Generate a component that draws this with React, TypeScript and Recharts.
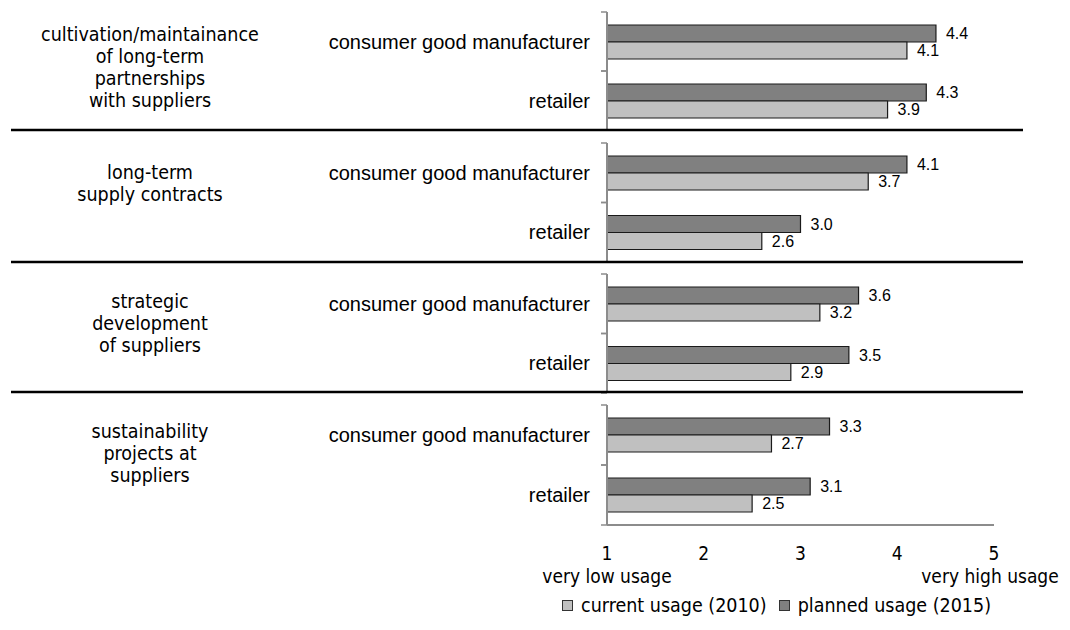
import React from 'react';
import { BarChart, Bar, XAxis, YAxis, LabelList } from 'recharts';

// ---- data ----
const groupLabels: string[][] = [
  ['cultivation/maintainance', 'of long-term', 'partnerships', 'with suppliers'],
  ['long-term', 'supply contracts'],
  ['strategic', 'development', 'of suppliers'],
  ['sustainability', 'projects at', 'suppliers'],
];
const actors = ['consumer good manufacturer', 'retailer'];
const current2010 = [
  [4.1, 3.9],
  [3.7, 2.6],
  [3.2, 2.9],
  [2.7, 2.5],
];
const planned2015 = [
  [4.4, 4.3],
  [4.1, 3.0],
  [3.6, 3.5],
  [3.3, 3.1],
];
const xTicks = [1, 2, 3, 4, 5];
const xCaptions: Record<number, string> = { 1: 'very low usage', 5: 'very high usage' };
const seriesNames = { current: 'current usage (2010)', planned: 'planned usage (2015)' };

// ---- style / layout ----
const W = 1070;
const PLOT_LEFT = 607;
const PLOT_W = 387;
const panelTops = [12, 143, 274, 405];
const panelHeights = [118, 119, 119, 120];
const groupFirstLine = [35, 173, 302, 432];
const separators = [130, 262, 392];
const COL_CURRENT = '#c0c0c0';
const COL_PLANNED = '#808080';
const AXIS_COL = '#8c8c8c';
const TAHOMA = '"DejaVu Sans Condensed", "DejaVu Sans", sans-serif';
const ARIAL = '"Liberation Sans", Arial, sans-serif';

const makeYTick = (half: number) => (props: any) => {
  const { x, y, payload } = props;
  return (
    <g>
      <line x1={x - 6} x2={x} y1={y - half} y2={y - half} stroke={AXIS_COL} strokeWidth={1.5} />
      <line x1={x - 6} x2={x} y1={y + half} y2={y + half} stroke={AXIS_COL} strokeWidth={1.5} />
      <text x={x - 17} y={y} textAnchor="end" dominantBaseline="central" fontFamily={ARIAL} fontSize={20} fill="#000">
        {payload.value}
      </text>
    </g>
  );
};

const XTick = (props: any) => {
  const { x, y, payload } = props;
  const cap = xCaptions[payload.value];
  const capX = payload.value === 1 ? x : x - 4;
  return (
    <g>
      <text x={x} y={y + 35} textAnchor="middle" fontFamily={TAHOMA} fontSize={19} fill="#000">
        {payload.value}
      </text>
      {cap ? (
        <text x={capX} y={y + 58} textAnchor="middle" fontFamily={TAHOMA} fontSize={19} fill="#000">
          {cap}
        </text>
      ) : null}
    </g>
  );
};

const fmt = (v: any) => Number(v).toFixed(1);

function Panel({ idx }: { idx: number }) {
  const H = panelHeights[idx];
  const last = idx === panelTops.length - 1;
  const xH = last ? 70 : 0;
  const data = actors.map((a, i) => ({
    actor: a,
    current: current2010[idx][i],
    planned: planned2015[idx][i],
  }));
  return (
    <div style={{ position: 'absolute', left: 0, top: panelTops[idx] - 5 }}>
      <BarChart
        width={W}
        height={H + 5 + 5 + xH}
        data={data}
        layout="vertical"
        margin={{ top: 5, bottom: 5, left: 0, right: W - PLOT_LEFT - PLOT_W }}
        barGap={0}
      >
        <XAxis
          type="number"
          domain={[1, 5]}
          ticks={xTicks}
          allowDataOverflow
          height={xH}
          axisLine={{ stroke: AXIS_COL, strokeWidth: 2 }}
          tickLine={false}
          tickSize={0}
          tickMargin={0}
          tick={last ? <XTick /> : false}
        />
        <YAxis
          type="category"
          dataKey="actor"
          width={PLOT_LEFT}
          axisLine={{ stroke: AXIS_COL, strokeWidth: 2 }}
          tickLine={false}
          tickSize={0}
          tickMargin={0}
          interval={0}
          tick={makeYTick(H / 4)}
        />
        <Bar dataKey="planned" name={seriesNames.planned} fill={COL_PLANNED} stroke="#1a1a1a" strokeWidth={1.2} barSize={17} isAnimationActive={false}>
          <LabelList dataKey="planned" position="right" offset={10} formatter={fmt} fontFamily={ARIAL} fontSize={16} fill="#000" />
        </Bar>
        <Bar dataKey="current" name={seriesNames.current} fill={COL_CURRENT} stroke="#1a1a1a" strokeWidth={1.2} barSize={17} isAnimationActive={false}>
          <LabelList dataKey="current" position="right" offset={10} formatter={fmt} fontFamily={ARIAL} fontSize={16} fill="#000" />
        </Bar>
      </BarChart>
    </div>
  );
}

export default function App() {
  return (
    <div style={{ position: 'absolute', left: 0, top: 0, width: W, height: 630, background: '#fff', overflow: 'hidden' }}>
      {panelTops.map((_, i) => (
        <Panel key={i} idx={i} />
      ))}
      {groupLabels.map((lines, i) => (
        <div
          key={'g' + i}
          style={{
            position: 'absolute',
            left: 0,
            width: 300,
            top: groupFirstLine[i] - 11,
            textAlign: 'center',
            fontFamily: TAHOMA,
            fontSize: 19.5,
            lineHeight: '22px',
            color: '#000',
          }}
        >
          {lines.map((l, j) => (
            <div key={j}>{l}</div>
          ))}
        </div>
      ))}
      <svg width={W} height={630} style={{ position: 'absolute', left: 0, top: 0, pointerEvents: 'none' }}>
        {separators.map((y, i) => (
          <line key={i} x1={11} x2={1023} y1={y} y2={y} stroke="#000" strokeWidth={2.5} />
        ))}
      </svg>
      <div
        style={{
          position: 'absolute',
          left: 562,
          top: 594,
          display: 'flex',
          alignItems: 'center',
          fontFamily: TAHOMA,
          fontSize: 19.5,
          color: '#000',
          whiteSpace: 'nowrap',
        }}
      >
        {[
          { name: seriesNames.current, color: COL_CURRENT },
          { name: seriesNames.planned, color: COL_PLANNED },
        ].map((s, i) => (
          <div key={i} style={{ display: 'flex', alignItems: 'center', marginRight: 12 }}>
            <span style={{ display: 'inline-block', width: 9, height: 9, background: s.color, border: '1px solid #333', marginRight: 8 }} />
            <span>{s.name}</span>
          </div>
        ))}
      </div>
    </div>
  );
}
